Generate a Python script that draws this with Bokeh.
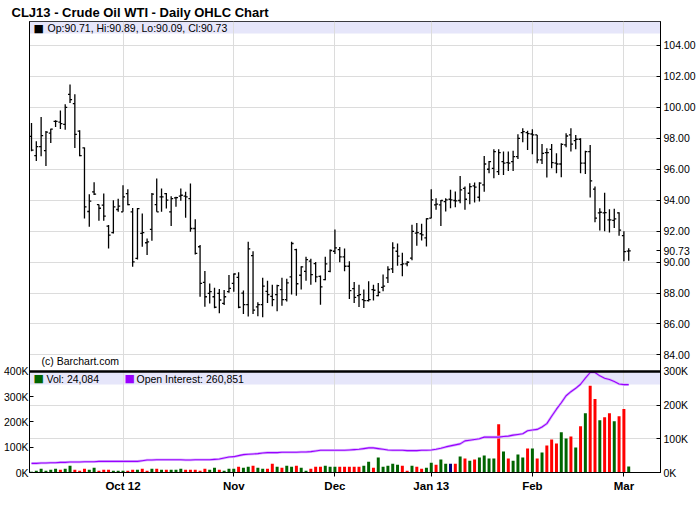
import pandas as pd
from bokeh.plotting import figure
from bokeh.models import (Range1d, LinearAxis, FixedTicker, Label, BoxAnnotation,
                          ColumnDataSource, NumeralTickFormatter, Span)
from bokeh.embed import file_html
from bokeh.resources import INLINE

FONT = "Liberation Sans"

# ---------------- data ----------------
holidays = ["2012-11-22", "2012-12-25", "2013-01-01", "2013-01-21", "2013-02-18"]
dates = [d for d in pd.bdate_range("2012-09-04", "2013-03-04")
         if d.strftime("%Y-%m-%d") not in holidays]

month_labels = ["Oct 12", "Nov", "Dec", "Jan 13", "Feb", "Mar"]

opens = [98.13, 96.88, 97.46, 97.20, 98.34, 99.10, 99.05, 98.90, 100.84, 100.24,
         98.47, 97.38, 93.27, 94.54, 93.72, 93.68, 92.32, 91.91, 93.40, 93.25,
         94.43, 93.25, 90.24, 91.85, 91.25, 92.11, 93.72, 94.22, 94.43, 93.25,
         94.15, 94.26, 94.26, 94.10, 92.17, 90.99, 88.69, 87.98, 87.76, 87.98,
         87.33, 88.09, 88.62, 89.01, 88.00, 87.25, 90.42, 87.10, 87.25, 88.11,
         87.79, 87.90, 88.22, 87.57, 89.04, 90.81, 89.15, 89.40, 90.06, 89.90,
         89.08, 88.87, 89.40, 90.70, 90.81, 90.34, 89.73, 88.29, 87.83, 87.57,
         87.51, 88.22, 87.83, 88.37, 88.98, 89.56, 90.70, 89.84, 89.88, 90.26,
         91.87, 91.83, 91.57, 92.84, 93.70, 93.70, 93.91, 94.06, 93.98, 93.98,
         94.77, 94.45, 94.92, 94.19, 94.99, 96.00, 96.06, 95.85, 96.49, 96.43,
         96.49, 96.82, 98.37, 98.37, 98.28, 98.22, 96.60, 97.08, 97.29, 96.39,
         96.34, 97.57, 98.22, 97.85, 97.94, 96.39, 97.14, 94.71, 93.18, 93.18,
         92.73, 92.69, 93.18, 91.71, 90.71]
highs = [98.99, 97.81, 99.38, 98.47, 98.62, 99.16, 99.80, 100.20, 101.48, 100.84,
         98.52, 97.40, 94.39, 95.16, 93.72, 94.43, 92.39, 94.00, 94.10, 94.97,
         94.71, 93.50, 93.50, 93.14, 91.53, 94.47, 95.40, 94.75, 94.47, 94.26,
         94.22, 94.75, 94.54, 95.08, 92.77, 91.10, 89.42, 88.62, 88.34, 88.26,
         88.19, 89.16, 89.27, 89.34, 88.16, 91.31, 90.70, 87.40, 88.98, 88.80,
         88.54, 88.54, 88.98, 88.93, 91.31, 90.86, 89.73, 90.34, 90.21, 90.01,
         89.13, 90.34, 90.81, 92.10, 90.98, 90.88, 90.06, 88.72, 88.54, 88.22,
         88.76, 88.54, 88.65, 89.19, 89.73, 91.29, 91.20, 90.60, 90.06, 92.41,
         92.52, 92.47, 92.84, 94.71, 94.13, 94.02, 94.13, 94.67, 94.56, 95.57,
         94.88, 95.10, 95.14, 95.16, 96.86, 96.54, 97.29, 97.29, 97.14, 97.14,
         97.20, 98.26, 98.65, 98.49, 98.58, 98.22, 97.63, 97.35, 97.63, 97.03,
         97.68, 98.32, 98.65, 98.22, 98.00, 97.20, 97.57, 94.88, 93.48, 94.48,
         93.42, 93.44, 93.22, 91.99, 90.89]
lows = [97.16, 96.54, 96.84, 96.21, 97.70, 98.73, 98.60, 98.56, 100.28, 97.38,
        96.84, 92.82, 92.28, 94.34, 92.67, 92.67, 90.88, 91.85, 93.25, 93.25,
        93.68, 89.70, 90.17, 90.99, 90.45, 91.38, 93.25, 93.25, 93.46, 92.34,
        93.57, 93.96, 92.86, 91.96, 90.49, 87.76, 87.12, 87.33, 87.01, 86.69,
        87.22, 88.02, 88.09, 87.01, 86.64, 86.49, 86.64, 86.50, 86.43, 87.36,
        87.14, 86.82, 87.18, 87.46, 87.90, 87.83, 88.22, 88.80, 88.54, 88.70,
        87.25, 88.83, 89.34, 90.53, 89.99, 89.41, 87.62, 87.36, 87.10, 87.03,
        87.46, 87.51, 87.79, 88.11, 88.65, 89.30, 89.77, 89.08, 89.73, 90.12,
        91.05, 91.40, 91.01, 92.84, 93.38, 92.34, 93.27, 93.48, 93.55, 93.81,
        93.38, 93.74, 93.85, 93.91, 94.55, 95.74, 95.42, 95.63, 95.63, 95.89,
        95.89, 96.67, 97.74, 97.25, 96.97, 96.39, 96.34, 95.46, 96.06, 95.74,
        95.48, 97.42, 97.14, 97.29, 95.74, 95.70, 94.17, 92.58, 92.04, 91.99,
        91.91, 92.20, 91.71, 90.05, 90.09]
closes = [97.23, 97.46, 98.17, 98.40, 98.60, 99.10, 98.95, 100.00, 100.50, 98.26,
          96.88, 93.57, 93.94, 94.39, 93.48, 92.97, 91.74, 93.57, 93.62, 94.22,
          93.72, 90.02, 93.46, 91.90, 91.31, 94.39, 93.25, 94.22, 94.00, 94.10,
          94.17, 94.32, 94.22, 92.17, 90.56, 88.62, 87.76, 88.09, 87.08, 87.55,
          87.76, 88.30, 89.23, 87.08, 87.25, 90.86, 86.90, 87.25, 88.44, 87.90,
          87.57, 88.48, 87.57, 88.65, 91.20, 88.60, 89.69, 90.16, 89.19, 89.04,
          88.40, 89.88, 90.75, 90.92, 90.34, 89.73, 88.16, 87.72, 87.90, 87.51,
          87.57, 88.18, 88.05, 88.44, 89.52, 90.92, 90.38, 89.88, 89.99, 91.98,
          91.90, 91.76, 92.80, 94.02, 93.74, 93.98, 94.02, 94.02, 93.95, 94.67,
          94.06, 94.88, 94.85, 95.10, 96.34, 96.49, 97.14, 97.08, 96.39, 96.39,
          96.82, 98.00, 98.43, 98.30, 98.22, 96.60, 97.03, 97.08, 96.43, 96.34,
          97.61, 98.15, 97.63, 97.94, 96.39, 97.14, 95.25, 92.84, 93.22, 93.20,
          92.73, 92.79, 92.06, 90.68, 90.73]
volumes = [3000, 7000, 15000, 7000, 11000, 15000, 11000, 15000, 27000, 11000,
           7000, 15000, 11000, 19000, 7000, 11000, 11000, 7000, 7000, 7000,
           7000, 11000, 11000, 15000, 7000, 15000, 15000, 11000, 11000, 11000,
           11000, 15000, 11000, 11000, 11000, 7000, 15000, 11000, 19000, 11000,
           7000, 15000, 15000, 23000, 19000, 23000, 27000, 19000, 15000, 15000,
           35000, 23000, 19000, 27000, 23000, 27000, 19000, 7000, 15000, 23000,
           23000, 27000, 23000, 23000, 23000, 23000, 23000, 23000, 23000, 27000,
           43000, 19000, 59000, 23000, 27000, 35000, 31000, 27000, 7000, 27000,
           23000, 15000, 19000, 39000, 31000, 51000, 35000, 35000, 35000, 63000,
           55000, 47000, 51000, 59000, 67000, 55000, 55000, 191000, 83000, 55000,
           47000, 71000, 59000, 95000, 95000, 55000, 79000, 107000, 131000, 115000,
           159000, 135000, 143000, 99000, 183000, 235000, 343000, 291000, 207000, 219000,
           235000, 203000, 223000, 251000, 24084]
vol_dir = list("GGGGGGRGGR" "RRGGRRRGGG" "RRGRRGRGRG" "GGRRRRRGGR" "GGGRGGRGGR"
               "RGRGGRGGRR" "RGGGRRRRRG" "GRGGGGGRRG" "RRGGRGGNRG" "RGRGGGGRGR"
               "GGGRGRGRRR" "GGRGRGRRGR" "RGRRG")
open_interest = [27000, 27000, 28000, 28000, 29000, 29000, 30000, 30000, 31000, 31000,
                 31000, 32000, 32000, 32000, 33000, 33000, 33000, 33000, 33000, 33000,
                 33000, 33000, 33000, 35000, 37000, 37000, 38000, 38000, 38000, 38000,
                 38000, 38000, 37000, 37000, 38000, 38000, 38000, 38000, 39000, 40000,
                 43000, 46000, 47000, 50000, 53000, 54000, 55000, 56000, 58000, 59000,
                 59000, 59000, 60000, 60000, 60000, 60000, 61000, 61000, 62000, 64000,
                 66000, 66000, 66000, 66000, 66000, 66000, 67000, 68000, 69000, 71000,
                 73000, 73000, 71000, 69000, 67000, 66000, 66000, 66000, 65000, 65000,
                 65000, 66000, 66000, 67000, 69000, 72000, 76000, 79000, 82000, 85000,
                 94000, 96000, 98000, 100000, 105000, 105000, 105000, 105000, 107000, 108000,
                 111000, 113000, 115000, 124000, 126000, 128000, 135000, 145000, 167000, 188000,
                 207000, 228000, 240000, 250000, 262000, 280000, 297000, 297000, 287000, 280000,
                 276000, 270000, 263000, 261000, 260851]

price_ticks = [84, 86, 88, 90, 92, 94, 96, 98, 100, 102, 104]
vol_ticks = [0, 100000, 200000, 300000, 400000]
vol_tick_labels = ["0K", "100K", "200K", "300K", "400K"]
oi_ticks = [0, 100000, 200000, 300000]
oi_tick_labels = ["0K", "100K", "200K", "300K"]

chart_title = "CLJ13 - Crude Oil WTI - Daily OHLC Chart"
last_bar = "Op:90.71, Hi:90.89, Lo:90.09, Cl:90.73"
last_close = 90.73
vol_text = "Vol: 24,084"
oi_text = "Open Interest: 260,851"

# ---------------- layout constants ----------------
n = len(dates)
xs = list(range(n))
month_starts = [i for i in range(1, n) if dates[i].month != dates[i - 1].month]

Y_LO, Y_SPLIT, Y_HI = 76.40, 82.93, 105.55
PX_PER_UNIT = 15.47
FRAME_W = 631
FRAME_H = round((Y_HI - Y_LO) * PX_PER_UNIT)
panel_units = Y_SPLIT - Y_LO
vol_end = 400000 * (Y_HI - Y_LO) / panel_units
oi_end = 300000 * (Y_HI - Y_LO) / panel_units
oi_pos = [Y_LO + v / 300000 * panel_units for v in oi_ticks]

colors = {"G": "#006400", "R": "#FF0000", "N": "#000080"}

src = ColumnDataSource(dict(
    x=xs, xl=[i - 0.42 for i in xs], xr=[i + 0.42 for i in xs],
    o=opens, h=highs, l=lows, c=closes,
    vol=volumes, vcol=[colors[d] for d in vol_dir], oi=open_interest))

p = figure(frame_width=FRAME_W, frame_height=FRAME_H,
           x_range=Range1d(-0.415, 130.6), y_range=Range1d(Y_LO, Y_HI),
           y_axis_location="right", title=chart_title, toolbar_location=None,
           output_backend="svg", min_border_left=28, min_border_top=21,
           min_border_right=4, min_border_bottom=4,
           outline_line_color="black", outline_line_width=1,
           background_fill_color="white", border_fill_color="white")
p.extra_y_ranges = {"vol": Range1d(0, vol_end), "oi": Range1d(0, oi_end)}

p.title.text_font = FONT
p.title.text_font_size = "13px"
p.title.text_font_style = "bold"
p.title.text_color = "black"
p.title.align = "left"
p.title.offset = -18
p.title.standoff = 3

# right axis: prices, last-close tag and open interest labels
price_axis = p.yaxis[0]
price_axis.ticker = FixedTicker(ticks=price_ticks + [last_close] + oi_pos)
price_axis.formatter = NumeralTickFormatter(format="0.00")
overrides = {pos: lab for pos, lab in zip(oi_pos, oi_tick_labels)}
overrides[last_close] = f"{last_close:.2f}"
price_axis.major_label_overrides = overrides
price_axis.major_tick_in = 4
price_axis.major_tick_out = 0
price_axis.major_label_standoff = 3
price_axis.major_label_text_font = FONT
price_axis.major_label_text_font_size = "10.5px"
price_axis.major_label_text_color = "black"
price_axis.axis_line_color = "black"
price_axis.major_tick_line_color = "black"

# left axis: volume
vol_axis = LinearAxis(y_range_name="vol", ticker=FixedTicker(ticks=vol_ticks),
                      major_label_overrides=dict(zip(vol_ticks, vol_tick_labels)),
                      major_tick_in=4, major_tick_out=0, major_label_standoff=1,
                      major_label_text_font=FONT, major_label_text_font_size="10.5px",
                      major_label_text_color="black", axis_line_color="black")
p.add_layout(vol_axis, "left")

# bottom axis: months
xa = p.xaxis[0]
xa.ticker = FixedTicker(ticks=month_starts)
xa.major_label_overrides = dict(zip(month_starts, month_labels))
xa.major_tick_in = 0
xa.major_tick_out = 4
xa.major_label_standoff = 3
xa.major_label_text_font = FONT
xa.major_label_text_font_size = "11.5px"
xa.major_label_text_font_style = "bold"
xa.major_label_text_color = "black"
xa.axis_line_color = "black"

# grids
p.xgrid.ticker = FixedTicker(ticks=month_starts)
p.ygrid.ticker = FixedTicker(ticks=price_ticks + oi_pos[1:3])
for g in (p.xgrid, p.ygrid):
    g.grid_line_color = "#DCDCDC"
    g.grid_line_width = 1

# header bands
top_band = BoxAnnotation(bottom=Y_HI - 12 / PX_PER_UNIT, fill_color="#E6E6FA",
                         fill_alpha=1, line_color=None, level="underlay")
vol_band = BoxAnnotation(bottom=Y_SPLIT - 13 / PX_PER_UNIT, top=Y_SPLIT,
                         fill_color="#E6E6FA", fill_alpha=1, line_color=None,
                         level="underlay")
p.add_layout(top_band)
p.add_layout(vol_band)
others = [r for r in p.center if not (r is top_band or r is vol_band)]
p.center = [top_band, vol_band] + others

# volume bars and open interest
p.vbar(x="x", top="vol", bottom=0, width=0.62, fill_color="vcol", line_color=None,
       y_range_name="vol", source=src)
p.line("x", "oi", y_range_name="oi", line_color="#D9B3FF", line_width=2.6, source=src)
p.line("x", "oi", y_range_name="oi", line_color="#9900FF", line_width=1.1, source=src)

# OHLC bars
p.segment(x0="x", y0="l", x1="x", y1="h", line_color="black", line_width=1.3, source=src)
p.segment(x0="xl", y0="o", x1="x", y1="o", line_color="black", line_width=1.3, source=src)
p.segment(x0="x", y0="c", x1="xr", y1="c", line_color="black", line_width=1.3, source=src)

# separator between panels
p.add_layout(Span(location=Y_SPLIT, dimension="width", line_color="black", line_width=2.5))

# texts
def add_label(text, x, y, size="10.5px", color="black", font=FONT, style="normal",
              baseline="middle"):
    p.add_layout(Label(x=x, y=y, x_units="screen", y_units="screen", text=text,
                       text_font=font, text_font_size=size, text_color=color,
                       text_font_style=style, text_baseline=baseline))

add_label("\u25A0", 4, FRAME_H - 6.5, size="11px", font="DejaVu Sans")
add_label(last_bar, 18, FRAME_H - 6.5)
add_label("\u25A0", 4, 94, size="11px", font="DejaVu Sans", color="#006400")
add_label(vol_text, 17, 94)
add_label("\u25A0", 95, 94, size="11px", font="DejaVu Sans", color="#9900FF")
add_label(oi_text, 107, 94)
add_label("(c) Barchart.com", 12, 112, baseline="alphabetic")

open("out.html", "w").write(file_html(p, INLINE))
